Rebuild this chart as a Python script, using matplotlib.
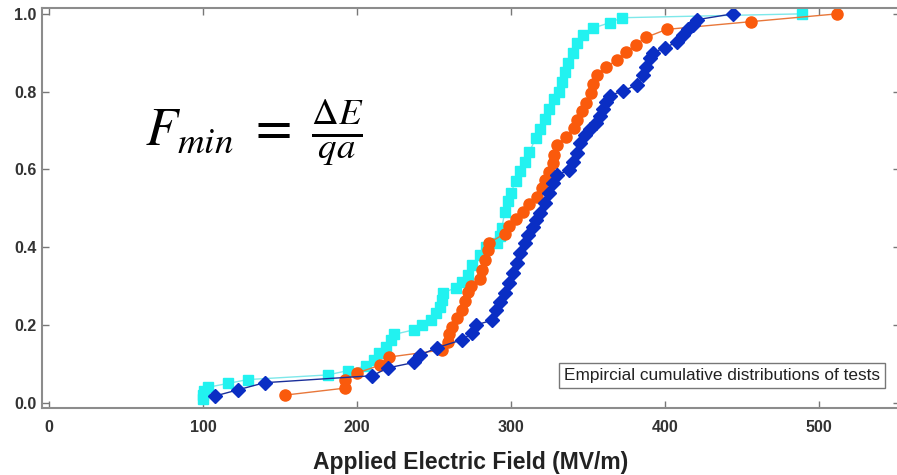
import matplotlib
matplotlib.use("Agg")
import matplotlib.pyplot as plt

plt.rcParams['font.family'] = ['Liberation Sans', 'DejaVu Sans']
plt.rcParams['mathtext.fontset'] = 'stix'

# empirical CDFs: applied field (MV/m) vs cumulative fraction failed
cyan_field = [100, 100, 101, 103, 116, 129, 181, 194, 206, 211, 214, 219, 222, 224,
              237, 242, 248, 251, 254, 255, 256, 264, 268, 272, 275, 280, 284, 291,
              293, 294, 296, 298, 300, 303, 306, 309, 312, 316, 319, 322, 325, 328,
              331, 333, 335, 337, 340, 343, 347, 353, 364, 372, 489]
cyan_frac = [0.010, 0.020, 0.030, 0.040, 0.050, 0.060, 0.072, 0.083, 0.095, 0.110,
             0.128, 0.145, 0.162, 0.176, 0.188, 0.200, 0.213, 0.230, 0.247, 0.265,
             0.283, 0.296, 0.311, 0.330, 0.355, 0.380, 0.400, 0.410, 0.430, 0.450,
             0.490, 0.520, 0.540, 0.570, 0.595, 0.620, 0.645, 0.680, 0.705, 0.730,
             0.755, 0.780, 0.800, 0.825, 0.850, 0.874, 0.900, 0.925, 0.946, 0.963,
             0.977, 0.990, 1.000]

orange_field = [153, 192, 192, 200, 215, 221, 255, 259, 260, 262, 265, 268, 270, 272,
                274, 280, 281, 283, 285, 286, 296, 299, 303, 308, 312, 317, 320, 322,
                325, 327, 328, 330, 336, 341, 343, 346, 349, 352, 353, 356, 362, 369,
                375, 381, 388, 401, 456, 512]
orange_frac = [0.020, 0.038, 0.058, 0.077, 0.097, 0.118, 0.136, 0.157, 0.177, 0.196,
               0.218, 0.239, 0.262, 0.285, 0.300, 0.318, 0.342, 0.368, 0.393, 0.412,
               0.435, 0.455, 0.473, 0.490, 0.510, 0.530, 0.553, 0.573, 0.594, 0.617,
               0.637, 0.662, 0.684, 0.707, 0.727, 0.750, 0.772, 0.797, 0.820, 0.843,
               0.864, 0.882, 0.902, 0.921, 0.940, 0.960, 0.980, 1.000]

blue_field = [108, 123, 140, 210, 220, 237, 241, 252, 268, 275, 277, 288, 290, 293,
              296, 299, 301, 304, 306, 309, 311, 314, 316, 319, 322, 325, 327, 330,
              338, 340, 343, 345, 348, 351, 355, 358, 360, 362, 364, 373, 382, 386,
              388, 390, 392, 400, 408, 412, 415, 418, 421, 444]
blue_frac = [0.018, 0.034, 0.052, 0.070, 0.090, 0.104, 0.123, 0.142, 0.162, 0.180,
             0.200, 0.213, 0.239, 0.260, 0.283, 0.308, 0.334, 0.360, 0.386, 0.411,
             0.432, 0.452, 0.470, 0.488, 0.514, 0.540, 0.565, 0.586, 0.599, 0.620,
             0.643, 0.668, 0.689, 0.703, 0.720, 0.737, 0.755, 0.774, 0.790, 0.802,
             0.818, 0.843, 0.864, 0.887, 0.900, 0.913, 0.928, 0.946, 0.960, 0.972,
             0.985, 1.000]

xticks = [0, 100, 200, 300, 400, 500]
yticks = [0.0, 0.2, 0.4, 0.6, 0.8, 1.0]

W, H = 897, 475
fig = plt.figure(figsize=(W / 100, H / 100), dpi=100)
ax = fig.add_axes([42 / W, (H - 408) / H, (900 - 42) / W, 400 / H])

ax.plot(cyan_field, cyan_frac, color='#7ee8ea', lw=1, marker='s', ms=7.5,
        mfc='#22f2f0', mec='#22f2f0')
ax.plot(orange_field, orange_frac, color='#e8773a', lw=1, marker='o', ms=8,
        mfc='#fa5a0c', mec='#fa5a0c')
ax.plot(blue_field, blue_frac, color='#1a2f9a', lw=1, marker='D', ms=7,
        mfc='#0a2ec4', mec='#0a2ec4')

ax.set_xlim(-4.5, 552.6)
ax.set_ylim(-0.013, 1.015)
ax.set_xticks(xticks)
ax.set_yticks(yticks)
ax.set_yticklabels(['%.1f' % v for v in yticks])

for side in ['left', 'top', 'bottom', 'right']:
    ax.spines[side].set_color('#8c8c8c')
    ax.spines[side].set_linewidth(1.5)

ax.tick_params(direction='in', length=5, width=1, color='#777777',
               top=True, right=True, labelsize=11.5, labelcolor='#333333')
ax.tick_params(axis='x', pad=9)
ax.tick_params(axis='y', pad=4)
for lbl in ax.get_xticklabels() + ax.get_yticklabels():
    lbl.set_fontweight('bold')

ax.set_xlabel('Applied Electric Field (MV/m)', fontsize=16.5, fontweight='bold',
              color='#222222', labelpad=11)

ax.text(0.977, 0.082, 'Empircial cumulative distributions of tests',
        transform=ax.transAxes, ha='right', va='center', fontsize=12.4,
        color='#222222',
        bbox=dict(boxstyle='square,pad=0.3', fc='white', ec='#777777', lw=1))

fig.text(145 / W, 1 - 133 / H, r'$F_{min}\ =\ \frac{\Delta E}{qa}$',
         fontsize=38, ha='left', va='center', color='black')

fig.savefig('out.png', dpi=100)
